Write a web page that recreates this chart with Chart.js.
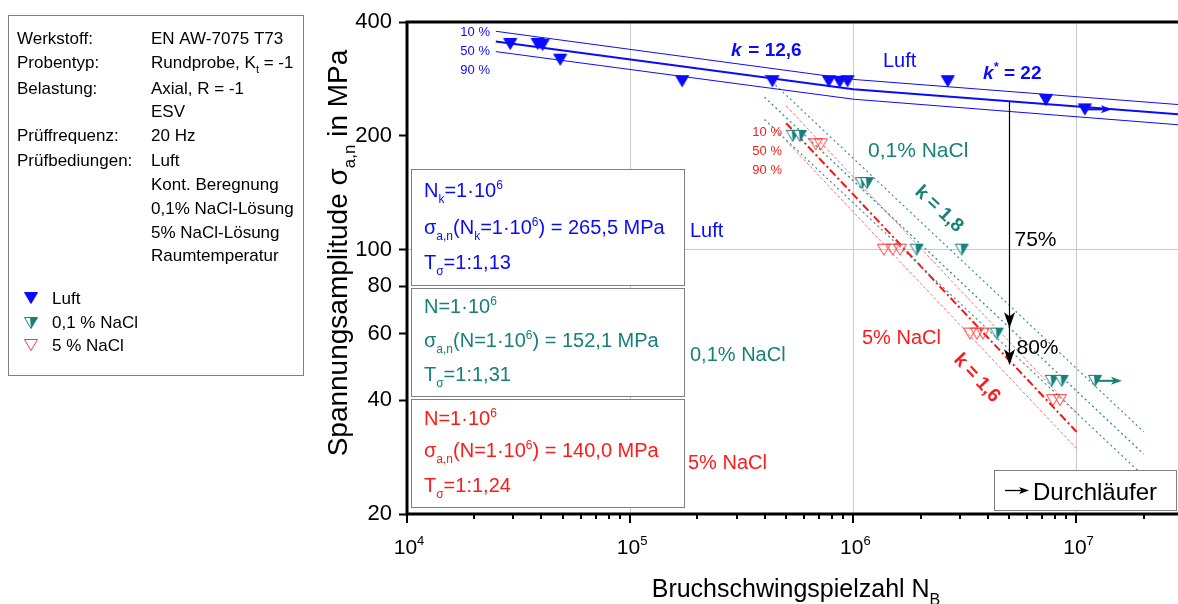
<!DOCTYPE html>
<html>
<head>
<meta charset="utf-8">
<script src="https://cdn.jsdelivr.net/npm/chart.js@4.4.1/dist/chart.umd.min.js"></script>
<style>
  html, body { margin: 0; padding: 0; background: #fff; overflow: hidden; }
  #wrap { width: 1178px; height: 604px; position: relative; }
</style>
</head>
<body>
<div id="wrap"><canvas id="myChart"></canvas></div>
<script>
const FONT = '"Liberation Sans", Arial, sans-serif';
const BLUE = '#0a0aff';
const TEAL = '#17807b';
const RED = '#ff1a1a';

// test points, Luft
const luftN = [29000, 38500, 40500, 48600, 171000, 434000, 776000, 869000, 942000, 2650000, 7300000];
const luftS = [350, 350, 348, 318, 279, 279, 279, 278, 279, 279, 249];
const luftRunoutN = [10900000];
const luftRunoutS = [235];

// test points, 0,1 % NaCl
const lowNaclN = [535000, 576000, 1090000, 1150000, 1920000, 3060000, 4390000, 7740000, 8580000];
const lowNaclS = [200, 200, 150, 150, 100, 100, 60, 45, 45];
const lowNaclRunoutN = [12100000];
const lowNaclRunoutS = [45];

// test points, 5 % NaCl
const highNaclN = [679000, 715000, 1370000, 1500000, 1620000, 3330000, 3580000, 3810000, 7850000, 8430000];
const highNaclS = [190, 190, 100, 100, 100, 60, 60, 60, 40, 40];

// scatter bands 10 / 50 / 90 %
const luftLineN = [25000, 1000000, 28500000];
const luftLine10 = [378, 282, 242];
const luftLine50 = [355, 265.5, 228];
const luftLine90 = [334, 250, 214];

const lowNaclLineN = [400000, 20000000];
const lowNaclLine10 = [290, 33];
const lowNaclLine50 = [253, 28.8];
const lowNaclLine90 = [221, 25.2];

const highNaclLineN = [500000, 10000000];
const highNaclLine10 = [240, 37];
const highNaclLine50 = [216, 33];
const highNaclLine90 = [194, 29.8];

// strength drop at N = 5e6
const dropN = 5000000;
const dropFrom = 247;
const dropTo = [62, 49.5];
const dropLabels = ['75%', '80%'];

// axis ticks
const xExponents = [4, 5, 6, 7];
const yTickValues = [20, 40, 60, 80, 100, 200, 400];

function pts(xs, ys) {
  return xs.map((x, i) => ({x: x, y: ys[i]}));
}

function marker(kind) {
  const c = document.createElement('canvas');
  c.width = 16; c.height = 14;
  const g = c.getContext('2d');
  const l = 1.5, r = 14.5, t = 1.5, b = 12.5, m = 8;
  g.beginPath();
  g.moveTo(l, t); g.lineTo(r, t); g.lineTo(m, b); g.closePath();
  if (kind === 'blue') {
    g.fillStyle = BLUE; g.fill();
    g.strokeStyle = BLUE; g.lineWidth = 1; g.stroke();
  } else if (kind === 'teal') {
    g.fillStyle = '#fff'; g.fill();
    g.strokeStyle = TEAL; g.lineWidth = 1; g.stroke();
    g.beginPath();
    g.moveTo(m - 1, t); g.lineTo(r, t); g.lineTo(m, b); g.closePath();
    g.fillStyle = TEAL; g.fill();
  } else {
    g.strokeStyle = '#ff3a3a'; g.lineWidth = 1; g.stroke();
  }
  return c;
}
const mBlue = marker('blue');
const mTeal = marker('teal');
const mRed = marker('red');

function scatterSet(data, img) {
  return {data: data, pointStyle: img, pointRadius: 6, showLine: false, order: 0};
}
function lineSet(data, color, width, dash) {
  return {data: data, showLine: true, borderColor: color, borderWidth: width,
          borderDash: dash, pointRadius: 0, fill: false, order: 5};
}

// text with sub/superscripts, y = visual middle of capitals
function rich(ctx, x, y, parts, size, color, align, weight) {
  weight = weight || '';
  const fontFor = (m) => weight + ' ' + (m ? Math.round(size * 0.62) : size) + 'px ' + FONT;
  let w = 0;
  for (const [s, m] of parts) { ctx.font = fontFor(m); w += ctx.measureText(s).width; }
  let cx = align === 'center' ? x - w / 2 : align === 'right' ? x - w : x;
  ctx.fillStyle = color;
  ctx.textAlign = 'left';
  ctx.textBaseline = 'alphabetic';
  const base = y + size * 0.36;
  for (const [s, m] of parts) {
    ctx.font = fontFor(m);
    const dy = m === 'sub' ? size * 0.3 : m === 'sup' ? -size * 0.42 : 0;
    ctx.fillText(s, cx, base + dy);
    cx += ctx.measureText(s).width;
  }
}
function txt(ctx, s, x, y, size, color, align) {
  rich(ctx, x, y, [[s, '']], size, color, align);
}

function arrowHead(ctx, x, y, dir, len, half, color) {
  // dir: 'right' or 'down'
  ctx.fillStyle = color;
  ctx.beginPath();
  if (dir === 'right') {
    ctx.moveTo(x, y); ctx.lineTo(x - len, y - half); ctx.lineTo(x - len * 0.75, y); ctx.lineTo(x - len, y + half);
  } else {
    ctx.moveTo(x, y); ctx.lineTo(x - half, y - len); ctx.lineTo(x, y - len * 0.75); ctx.lineTo(x + half, y - len);
  }
  ctx.closePath();
  ctx.fill();
}

function box(ctx, x, y, w, h, stroke) {
  ctx.fillStyle = '#fff';
  ctx.fillRect(x, y, w, h);
  ctx.strokeStyle = stroke;
  ctx.lineWidth = 1;
  ctx.strokeRect(x + 0.5, y + 0.5, w, h);
}

const decor = {
  id: 'decor',
  beforeDatasetsDraw(chart) {
    const ctx = chart.ctx;
    ctx.save();
    box(ctx, 411, 169, 273, 116, '#808080');
    box(ctx, 411, 288, 273, 108, '#808080');
    box(ctx, 411, 399, 273, 108, '#808080');

    rich(ctx, 424, 190, [['N', ''], ['k', 'sub'], ['=1·10', ''], ['6', 'sup']], 20, BLUE);
    rich(ctx, 424, 227, [['σ', ''], ['a,n', 'sub'], ['(N', ''], ['k', 'sub'], ['=1·10', ''], ['6', 'sup'], [') = 265,5 MPa', '']], 20, BLUE);
    rich(ctx, 424, 262, [['T', ''], ['σ', 'sub'], ['=1:1,13', '']], 20, BLUE);

    rich(ctx, 424, 306, [['N=1·10', ''], ['6', 'sup']], 20, TEAL);
    rich(ctx, 424, 340, [['σ', ''], ['a,n', 'sub'], ['(N=1·10', ''], ['6', 'sup'], [') = 152,1 MPa', '']], 20, TEAL);
    rich(ctx, 424, 374, [['T', ''], ['σ', 'sub'], ['=1:1,31', '']], 20, TEAL);

    rich(ctx, 424, 418, [['N=1·10', ''], ['6', 'sup']], 20, RED);
    rich(ctx, 424, 450, [['σ', ''], ['a,n', 'sub'], ['(N=1·10', ''], ['6', 'sup'], [') = 140,0 MPa', '']], 20, RED);
    rich(ctx, 424, 485, [['T', ''], ['σ', 'sub'], ['=1:1,24', '']], 20, RED);
    ctx.restore();
  },
  afterDatasetsDraw(chart) {
    const ctx = chart.ctx;
    const xs = chart.scales.x, ys = chart.scales.y;
    ctx.save();

    // run-out arrows
    const runout = (ns, ss, color) => {
      ns.forEach((n, i) => {
        const px = xs.getPixelForValue(n), py = ys.getPixelForValue(ss[i]);
        ctx.strokeStyle = color; ctx.lineWidth = 2;
        ctx.beginPath(); ctx.moveTo(px + 3, py); ctx.lineTo(px + 22, py); ctx.stroke();
        arrowHead(ctx, px + 27, py, 'right', 11, 4, color);
      });
    };
    runout(luftRunoutN, luftRunoutS, BLUE);
    runout(lowNaclRunoutN, lowNaclRunoutS, TEAL);

    // strength drop arrows
    const dx = Math.round(xs.getPixelForValue(dropN)) + 0.5;
    const y0 = ys.getPixelForValue(dropFrom);
    const tips = dropTo.map(v => ys.getPixelForValue(v));
    ctx.strokeStyle = '#000'; ctx.lineWidth = 1.2;
    ctx.beginPath(); ctx.moveTo(dx, y0); ctx.lineTo(dx, tips[tips.length - 1] - 8); ctx.stroke();
    tips.forEach(t => arrowHead(ctx, dx, t, 'down', 16, 5.5, '#000'));
    txt(ctx, dropLabels[0], dx + 5, 238, 21, '#000');
    txt(ctx, dropLabels[1], dx + 7, 346, 21, '#000');

    // band labels
    txt(ctx, '10 %', 490, 31, 13, BLUE, 'right');
    txt(ctx, '50 %', 490, 50, 13, BLUE, 'right');
    txt(ctx, '90 %', 490, 69, 13, BLUE, 'right');
    txt(ctx, '10 %', 782, 131, 13, RED, 'right');
    txt(ctx, '50 %', 782, 150, 13, RED, 'right');
    txt(ctx, '90 %', 782, 169, 13, RED, 'right');

    rich(ctx, 731, 49, [['k', '']], 19, BLUE, 'left', 'italic bold');
    rich(ctx, 743, 49, [[' = 12,6', '']], 19, BLUE, 'left', 'bold');
    txt(ctx, 'Luft', 883, 60, 20, BLUE);
    rich(ctx, 983, 72, [['k', '']], 19, BLUE, 'left', 'italic bold');
    rich(ctx, 994, 72, [['*', 'sup'], [' = 22', '']], 19, BLUE, 'left', 'bold');

    txt(ctx, '0,1% NaCl', 868, 149, 21, TEAL);
    txt(ctx, '5% NaCl', 862, 337, 20, RED);
    txt(ctx, 'Luft', 690, 230, 20, BLUE);
    txt(ctx, '0,1% NaCl', 690, 354, 20, TEAL);
    txt(ctx, '5% NaCl', 688, 462, 20, RED);

    const rot = (s, cx, cy, ang, color) => {
      ctx.save();
      ctx.translate(cx, cy); ctx.rotate(ang * Math.PI / 180);
      ctx.font = 'bold 19px ' + FONT;
      const w = ctx.measureText(s).width;
      rich(ctx, -w / 2, 0, [[s, '']], 19, color, 'left', 'bold');
      ctx.restore();
    };
    rot('k = 1,8', 940, 208, 43, TEAL);
    rot('k = 1,6', 978, 377, 47, RED);

    // Durchläufer legend
    box(ctx, 994, 470, 182, 40, '#808080');
    ctx.strokeStyle = '#000'; ctx.lineWidth = 1.3;
    ctx.beginPath(); ctx.moveTo(1005, 490.5); ctx.lineTo(1022, 490.5); ctx.stroke();
    arrowHead(ctx, 1029, 490.5, 'right', 10, 3.5, '#000');
    txt(ctx, 'Durchläufer', 1033, 491, 24, '#000');
    ctx.restore();
  },
  afterDraw(chart) {
    const ctx = chart.ctx;
    const a = chart.chartArea;
    const xs = chart.scales.x;
    ctx.save();
    ctx.strokeStyle = '#000';
    // x ticks
    xExponents.forEach(e => {
      for (let m = 1; m <= 9; m++) {
        const v = m * Math.pow(10, e);
        if (v > xs.max) break;
        const px = Math.round(xs.getPixelForValue(v));
        ctx.lineWidth = 2;
        ctx.beginPath(); ctx.moveTo(px, a.bottom); ctx.lineTo(px, a.bottom + (m === 1 ? 9 : 5)); ctx.stroke();
      }
      const px = xs.getPixelForValue(Math.pow(10, e));
      rich(ctx, px + 2, 546, [['10', ''], [String(e), 'sup']], 21, '#000', 'center');
    });
    // axes frame
    ctx.lineWidth = 3;
    ctx.beginPath();
    ctx.moveTo(a.left, a.top); ctx.lineTo(a.right, a.top);
    ctx.moveTo(a.left, a.top - 1.5); ctx.lineTo(a.left, a.bottom + 1.5);
    ctx.moveTo(a.left - 1.5, a.bottom); ctx.lineTo(a.right, a.bottom);
    ctx.stroke();

    // axis titles
    rich(ctx, 796, 588, [['Bruchschwingspielzahl N', ''], ['B', 'sub']], 25, '#000', 'center');
    ctx.save();
    ctx.translate(337, 253); ctx.rotate(-Math.PI / 2);
    rich(ctx, 0, 0, [['Spannungsamplitude σ', ''], ['a,n', 'sub'], [' in MPa', '']], 28, '#000', 'center');
    ctx.restore();

    // material info box
    box(ctx, 8, 15, 295, 360, '#808080');
    const info = [
      ['Werkstoff:', [['EN AW-7075 T73', '']], 38],
      ['Probentyp:', [['Rundprobe, K', ''], ['t', 'sub'], [' = -1', '']], 62],
      ['Belastung:', [['Axial, R = -1', '']], 88],
      ['', [['ESV', '']], 111],
      ['Prüffrequenz:', [['20 Hz', '']], 135],
      ['Prüfbediungen:', [['Luft', '']], 160],
      ['', [['Kont. Beregnung', '']], 184],
      ['', [['0,1% NaCl-Lösung', '']], 208],
      ['', [['5% NaCl-Lösung', '']], 232],
      ['', [['Raumtemperatur', '']], 255]
    ];
    info.forEach(([k, v, y]) => {
      if (k) txt(ctx, k, 17, y, 17, '#000');
      rich(ctx, 151, y, v, 17, '#000');
    });
    ctx.drawImage(mBlue, 23, 291);
    ctx.drawImage(mTeal, 23, 316);
    ctx.drawImage(mRed, 23, 338);
    txt(ctx, 'Luft', 52, 298, 17, '#000');
    txt(ctx, '0,1 % NaCl', 52, 322, 17, '#000');
    txt(ctx, '5 % NaCl', 52, 345, 17, '#000');
    ctx.restore();
  }
};

new Chart(document.getElementById('myChart'), {
  type: 'scatter',
  data: {
    datasets: [
      scatterSet(pts(luftN, luftS), mBlue),
      scatterSet(pts(luftRunoutN, luftRunoutS), mBlue),
      scatterSet(pts(lowNaclN, lowNaclS), mTeal),
      scatterSet(pts(lowNaclRunoutN, lowNaclRunoutS), mTeal),
      scatterSet(pts(highNaclN, highNaclS), mRed),
      lineSet(pts(luftLineN, luftLine10), BLUE, 1, []),
      lineSet(pts(luftLineN, luftLine50), BLUE, 2, []),
      lineSet(pts(luftLineN, luftLine90), BLUE, 1, []),
      lineSet(pts(lowNaclLineN, lowNaclLine10), '#3a9490', 1.2, [2, 3]),
      lineSet(pts(lowNaclLineN, lowNaclLine50), '#3a9490', 1.4, [2, 3]),
      lineSet(pts(lowNaclLineN, lowNaclLine90), '#3a9490', 1.2, [2, 3]),
      lineSet(pts(highNaclLineN, highNaclLine10), '#ff7070', 1, [3, 2]),
      lineSet(pts(highNaclLineN, highNaclLine50), '#ff1010', 2, [8, 3, 2, 3]),
      lineSet(pts(highNaclLineN, highNaclLine90), '#ff7070', 1, [3, 2])
    ]
  },
  options: {
    responsive: true,
    maintainAspectRatio: false,
    animation: false,
    devicePixelRatio: 1,
    layout: {autoPadding: false, padding: {top: 22, left: 0, right: 0, bottom: 0}},
    plugins: {legend: {display: false}, tooltip: {enabled: false}},
    scales: {
      x: {
        type: 'logarithmic',
        min: 10000,
        max: 28500000,
        afterBuildTicks: (s) => {
          const t = [];
          xExponents.forEach(e => { for (let m = 1; m <= 9; m++) { const v = m * Math.pow(10, e); if (v <= s.max) t.push({value: v}); } });
          s.ticks = t;
        },
        afterFit: (s) => { s.height = 90; },
        ticks: {display: false},
        border: {display: false},
        grid: {
          drawTicks: false,
          color: (c) => (c.tick && [1e5, 1e6, 1e7].includes(c.tick.value)) ? '#c9c9c9' : 'rgba(0,0,0,0)'
        }
      },
      y: {
        type: 'logarithmic',
        min: 20,
        max: 400,
        afterBuildTicks: (s) => { s.ticks = yTickValues.map(v => ({value: v})); },
        afterFit: (s) => { s.width = 407; },
        border: {display: false},
        ticks: {
          callback: (v) => String(v),
          font: {family: FONT, size: 22},
          color: '#000',
          padding: 7
        },
        grid: {
          drawTicks: true,
          tickLength: 8,
          tickWidth: 2,
          tickColor: '#000',
          color: (c) => (c.tick && c.tick.value === 100) ? '#c9c9c9' : 'rgba(0,0,0,0)'
        }
      }
    }
  },
  plugins: [decor]
});
</script>
</body>
</html>
